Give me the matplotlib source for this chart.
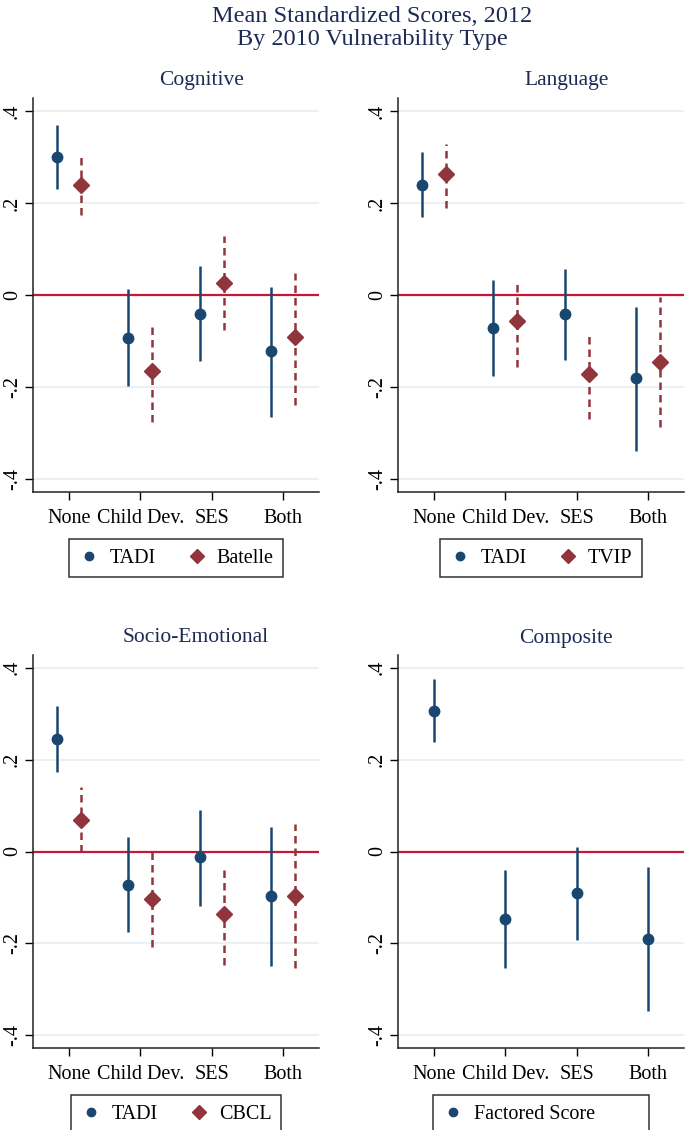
import numpy as np
import matplotlib
matplotlib.use('Agg')
import matplotlib.pyplot as plt
from matplotlib.lines import Line2D

plt.rcParams['font.family'] = ['Liberation Serif', 'DejaVu Serif']

cats = ['None', 'Child Dev.', 'SES', 'Both']

# Cognitive
cog_tadi = [0.300, -0.093, -0.041, -0.122]
cog_tadi_lo = [0.230, -0.198, -0.143, -0.265]
cog_tadi_hi = [0.369, 0.012, 0.062, 0.017]
cog_bat = [0.239, -0.166, 0.026, -0.091]
cog_bat_lo = [0.173, -0.276, -0.077, -0.240]
cog_bat_hi = [0.309, -0.064, 0.129, 0.047]

# Language
lang_tadi = [0.240, -0.072, -0.041, -0.181]
lang_tadi_lo = [0.169, -0.177, -0.142, -0.340]
lang_tadi_hi = [0.311, 0.033, 0.057, -0.025]
lang_tvip = [0.262, -0.057, -0.172, -0.146]
lang_tvip_lo = [0.189, -0.157, -0.269, -0.287]
lang_tvip_hi = [0.328, 0.030, -0.082, -0.004]

# Socio-Emotional
se_tadi = [0.245, -0.072, -0.013, -0.098]
se_tadi_lo = [0.174, -0.176, -0.118, -0.249]
se_tadi_hi = [0.316, 0.031, 0.091, 0.053]
se_cbcl = [0.069, -0.104, -0.137, -0.096]
se_cbcl_lo = [0.000, -0.208, -0.248, -0.253]
se_cbcl_hi = [0.140, 0.002, -0.035, 0.059]

# Composite
comp = [0.307, -0.147, -0.091, -0.191]
comp_lo = [0.238, -0.253, -0.193, -0.347]
comp_hi = [0.375, -0.041, 0.009, -0.034]

navy = '#1a476f'
maroon = '#90353b'
zero_red = '#c8153a'
grid_c = '#e6eef1'
title_c = '#1c2a55'

fig = plt.figure(figsize=(6.85, 11.3), dpi=100)
W, H = 685.0, 1130.0


def make_ax(x0, x1, y0, y1):
    return fig.add_axes([x0 / W, 1 - y1 / H, (x1 - x0) / W, (y1 - y0) / H])


def style_ax(ax):
    ax.set_xlim(0.5, 4.5)
    ax.set_ylim(-0.428, 0.428)
    ax.set_yticks([-0.4, -0.2, 0, 0.2, 0.4])
    ax.set_yticklabels(['-.4', '-.2', '0', '.2', '.4'], rotation=90, va='center')
    ax.set_xticks([1, 2, 3, 4])
    ax.set_xticklabels(cats)
    ax.tick_params(labelsize=14.5, length=6, width=1, colors='black', pad=2)
    ax.tick_params(axis='x', pad=6)
    for s in ['top', 'right']:
        ax.spines[s].set_visible(False)
    for s in ['left', 'bottom']:
        ax.spines[s].set_linewidth(1.1)
        ax.spines[s].set_color('#222222')
    for yv in [-0.4, -0.2, 0.2, 0.4]:
        ax.axhline(yv, color=grid_c, lw=1.2, zorder=0)
    ax.axhline(0, color=zero_red, lw=1.6, zorder=1)


def draw_pair(ax, a, alo, ahi, b, blo, bhi):
    x = np.arange(1, 5)
    xa = x - 0.165
    xb = x + 0.165
    ax.vlines(xa, alo, ahi, color=navy, lw=1.8, zorder=2)
    ax.plot(xa, a, 'o', color=navy, ms=7.5, zorder=3)
    ax.vlines(xb, blo, bhi, color=maroon, lw=1.8, linestyles=(0, (3, 2)), zorder=2)
    ax.plot(xb, b, 'D', color=maroon, ms=8.5, zorder=3)


def add_legend(ax, labels, two=True):
    h = [Line2D([], [], ls='none', marker='o', color=navy, ms=6)]
    if two:
        h.append(Line2D([], [], ls='none', marker='D', color=maroon, ms=7.5))
    leg = ax.legend(h, labels, loc='upper center', bbox_to_anchor=(0.5, -0.095),
                    ncol=len(h), frameon=True, fancybox=False, fontsize=14.5,
                    handletextpad=0.45, columnspacing=1.5, borderpad=0.45,
                    handlelength=1.1)
    leg.get_frame().set_edgecolor('black')
    leg.get_frame().set_linewidth(1.1)


ax1 = make_ax(33, 319, 98, 492)
style_ax(ax1)
draw_pair(ax1, cog_tadi, cog_tadi_lo, cog_tadi_hi, cog_bat, cog_bat_lo, cog_bat_hi)
add_legend(ax1, ['TADI', 'Batelle'])

ax2 = make_ax(398, 684, 98, 492)
style_ax(ax2)
draw_pair(ax2, lang_tadi, lang_tadi_lo, lang_tadi_hi, lang_tvip, lang_tvip_lo, lang_tvip_hi)
add_legend(ax2, ['TADI', 'TVIP'])

ax3 = make_ax(33, 319, 655, 1048)
style_ax(ax3)
draw_pair(ax3, se_tadi, se_tadi_lo, se_tadi_hi, se_cbcl, se_cbcl_lo, se_cbcl_hi)
add_legend(ax3, ['TADI', 'CBCL'])

ax4 = make_ax(398, 684, 655, 1048)
style_ax(ax4)
xc = np.arange(1, 5)
ax4.vlines(xc, comp_lo, comp_hi, color=navy, lw=1.8, zorder=2)
ax4.plot(xc, comp, 'o', color=navy, ms=7.5, zorder=3)
add_legend(ax4, ['Factored Score' + '\u00a0' * 9], two=False)

fig.text(372 / W, 1 - 28 / H, 'Mean Standardized Scores, 2012\nBy 2010 Vulnerability Type',
         ha='center', va='center', fontsize=17.5, color=title_c, linespacing=1.1)
fig.text(202 / W, 1 - 81 / H, 'Cognitive', ha='center', va='center', fontsize=15.5, color=title_c)
fig.text(567 / W, 1 - 81 / H, 'Language', ha='center', va='center', fontsize=15.5, color=title_c)
fig.text(196 / W, 1 - 638 / H, 'Socio-Emotional', ha='center', va='center', fontsize=15.5, color=title_c)
fig.text(566 / W, 1 - 638 / H, 'Composite', ha='center', va='center', fontsize=15.5, color=title_c)

fig.savefig('out.png', dpi=100)
